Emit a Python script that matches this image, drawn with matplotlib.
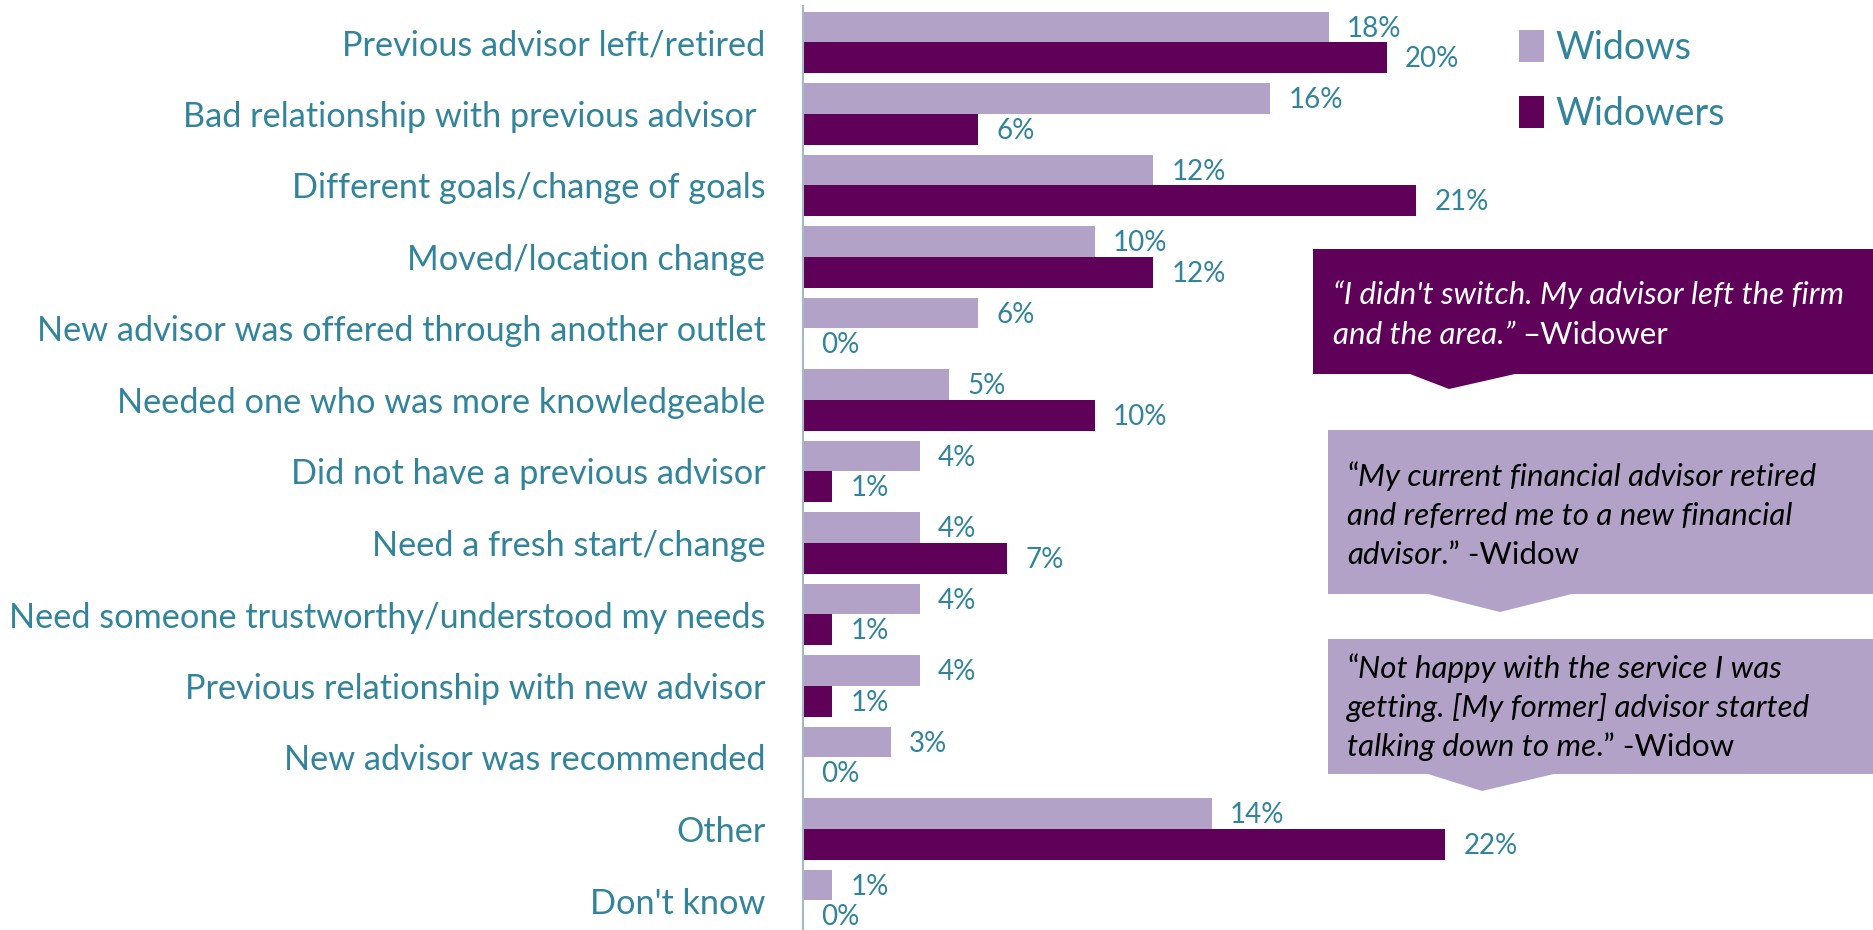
import matplotlib
matplotlib.use("Agg")
import matplotlib.pyplot as plt
from matplotlib.patches import Polygon, Patch

plt.rcParams["font.family"] = ["Lato", "DejaVu Sans"]

# Reasons for switching to a new financial advisor (percent of respondents)
categories = [
    "Previous advisor left/retired",
    "Bad relationship with previous advisor ",
    "Different goals/change of goals",
    "Moved/location change",
    "New advisor was offered through another outlet",
    "Needed one who was more knowledgeable",
    "Did not have a previous advisor",
    "Need a fresh start/change",
    "Need someone trustworthy/understood my needs",
    "Previous relationship with new advisor",
    "New advisor was recommended",
    "Other",
    "Don't know",
]
widows = [18, 16, 12, 10, 6, 5, 4, 4, 4, 4, 3, 14, 1]
widowers = [20, 6, 21, 12, 0, 10, 1, 7, 1, 1, 0, 22, 0]
series_names = ["Widows", "Widowers"]

LIGHT = "#B3A2C7"
DARK = "#5F0059"
TEAL = "#31849B"
SPINE = "#A5B8C6"

W, H = 1874, 930
fig = plt.figure(figsize=(W / 100, H / 100), dpi=100)

# axes: left edge at the vertical axis line, spanning to the right border
ax_left, ax_top = 803, 6
ax = fig.add_axes([ax_left / W, 0, 1 - ax_left / W, (H - ax_top) / H])

n = len(categories)
pitch = 71.5          # pixels per category
first_center = 42.5   # pixel row of the first category centre
px_per_unit = 29.2    # pixels per percentage point
ax.set_xlim(0, (W - ax_left) / px_per_unit)
ax.set_ylim((n - 1) + (H - (first_center + (n - 1) * pitch)) / pitch,
            -(first_center - ax_top) / pitch)

bh = 0.427
pos = list(range(n))
ax.barh([p - bh / 2 for p in pos], widows, height=bh, color=LIGHT, linewidth=0,
        label=series_names[0])
ax.barh([p + bh / 2 for p in pos], widowers, height=bh, color=DARK, linewidth=0,
        label=series_names[1])

for p, a, b in zip(pos, widows, widowers):
    ax.annotate(f"{a}%", (a, p - bh / 2), xytext=(13, -1), textcoords="offset points",
                va="center", ha="left", fontsize=20, color=TEAL)
    ax.annotate(f"{b}%", (b, p + bh / 2), xytext=(13, -1), textcoords="offset points",
                va="center", ha="left", fontsize=20, color=TEAL)

ax.set_yticks(pos)
ax.set_yticklabels(categories, fontsize=24.7, color=TEAL)
for lbl in ax.get_yticklabels():
    lbl.set_va("center_baseline")
ax.tick_params(axis="y", length=0, pad=27)
ax.tick_params(axis="x", bottom=False, labelbottom=False)
for s in ["top", "right", "bottom"]:
    ax.spines[s].set_visible(False)
ax.spines["left"].set_color(SPINE)
ax.spines["left"].set_linewidth(1.5)
ax.set_facecolor("none")

# legend
handles = [Patch(facecolor=LIGHT, edgecolor="none"), Patch(facecolor=DARK, edgecolor="none")]
fig.legend(handles, series_names, loc="upper left",
           bbox_to_anchor=(1519 / W, 1 - 30 / H), frameon=False,
           fontsize=27, labelcolor=TEAL, handlelength=0.68, handleheight=0.95,
           handletextpad=0.3, labelspacing=0.8, borderpad=0, borderaxespad=0)


def fx(x):
    return x / W


def fy(y):
    return 1 - y / H


def callout(x0, y0, y1, tri, color):
    x1 = W
    bx, ax_, cx = tri[0], tri[1], tri[2]
    apex_y = tri[3]
    pts = [(x0, y0), (x1, y0), (x1, y1), (cx, y1), (ax_, apex_y), (bx, y1), (x0, y1)]
    fig.patches.append(Polygon([(fx(a), fy(b)) for a, b in pts], closed=True,
                               transform=fig.transFigure, facecolor=color,
                               edgecolor="none", zorder=3))


renderer = fig.canvas.get_renderer()


def quote_line(x, y_center, pieces, color, size=22.5):
    cur = x
    for txt, italic in pieces:
        t = fig.text(fx(cur), fy(y_center), txt, fontsize=size, color=color,
                     style="italic" if italic else "normal",
                     va="center_baseline", ha="left", zorder=4)
        cur = t.get_window_extent(renderer).x1
    return cur


callout(1313, 249, 374, (1410, 1449, 1515, 389), DARK)
quote_line(1333, 292, [("\u201cI didn't switch. My advisor left the firm", True)], "white")
quote_line(1333, 332, [("and the area.\u201d ", True), ("\u2013Widower", False)], "white")

callout(1328, 430, 594, (1428, 1500, 1572, 612), LIGHT)
quote_line(1347, 474, [("\u201c", False), ("My current financial advisor retired", True)], "black")
quote_line(1347, 513, [("and referred me to a new financial", True)], "black")
quote_line(1347, 552, [("advisor", True), (".\u201d -Widow", False)], "black")

callout(1328, 639, 774, (1428, 1482, 1554, 791), LIGHT)
quote_line(1347, 666, [("\u201c", False), ("Not happy with the service I was", True)], "black")
quote_line(1347, 705, [("getting. [My former] advisor started", True)], "black")
quote_line(1347, 744, [("talking down to me", True), (".\u201d -Widow", False)], "black")

fig.savefig("out.png", dpi=100, facecolor="white")
